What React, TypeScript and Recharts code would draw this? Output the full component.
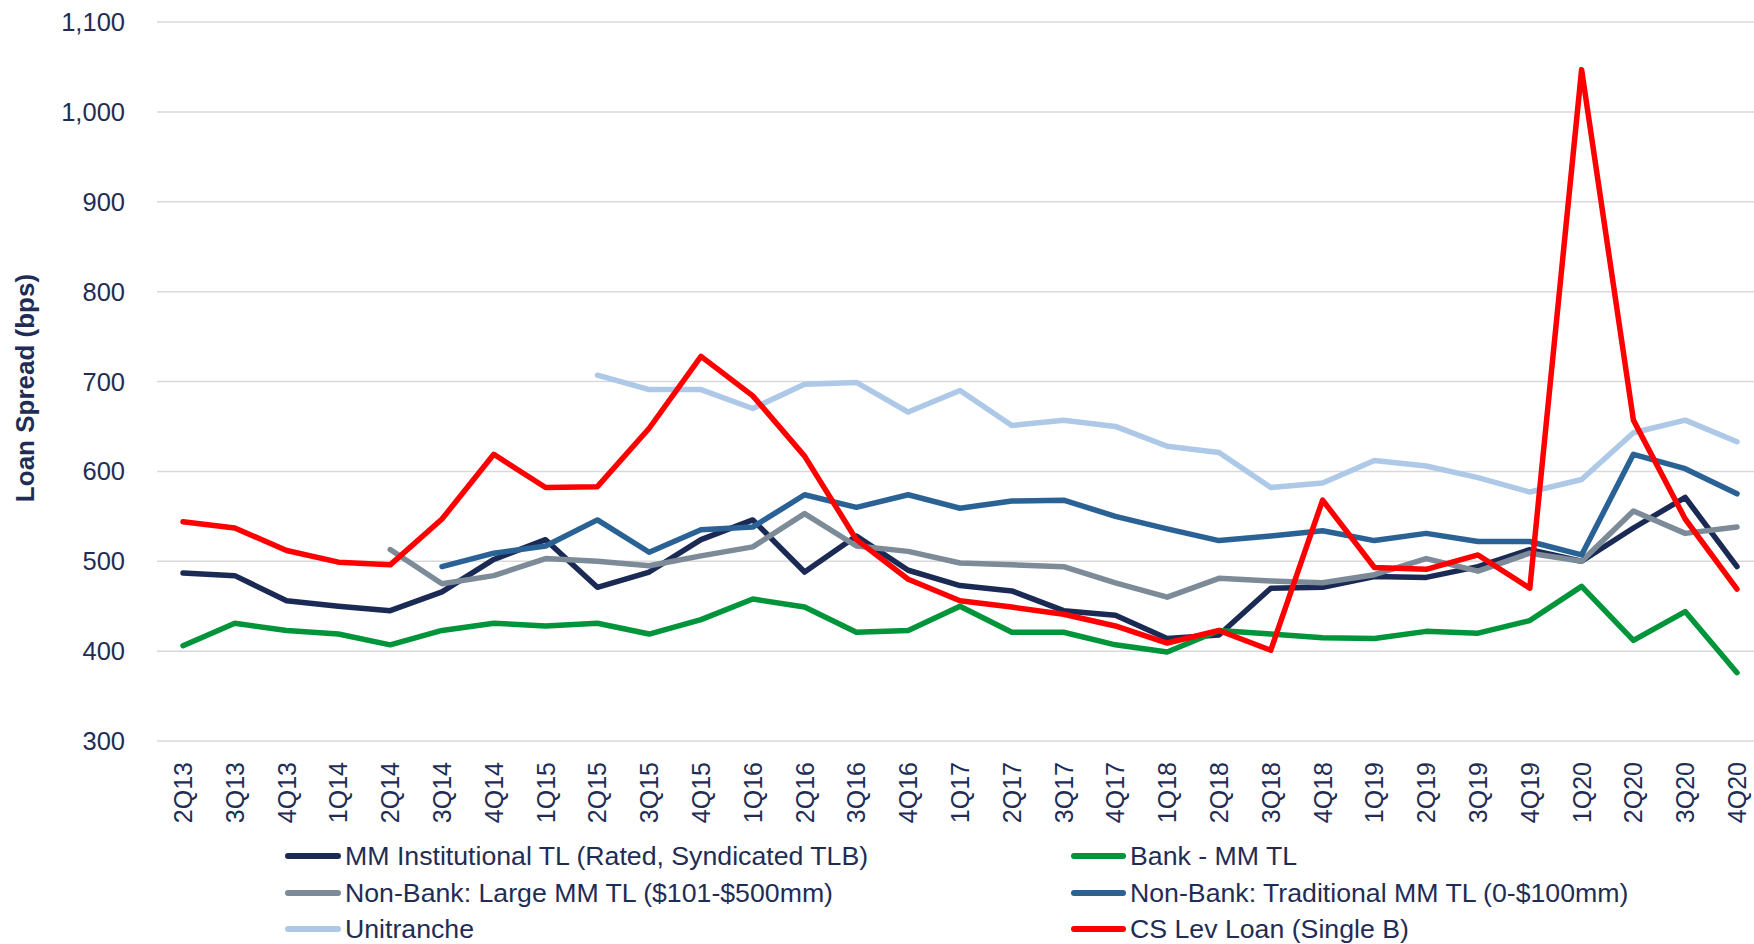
import React from 'react';
import { LineChart, Line, XAxis, YAxis, CartesianGrid } from 'recharts';

const quarters = [
  '2Q13', '3Q13', '4Q13', '1Q14', '2Q14', '3Q14', '4Q14', '1Q15', '2Q15', '3Q15', '4Q15',
  '1Q16', '2Q16', '3Q16', '4Q16', '1Q17', '2Q17', '3Q17', '4Q17', '1Q18', '2Q18', '3Q18',
  '4Q18', '1Q19', '2Q19', '3Q19', '4Q19', '1Q20', '2Q20', '3Q20', '4Q20',
];

const mmInstitutional = [
  487, 484, 456, 450, 445, 466, 502, 524, 471, 488, 524, 546, 488, 528, 490, 473,
  467, 445, 440, 414, 418, 470, 471, 483, 482, 494, 513, 500, 537, 571, 494,
];
const bankMm = [
  406, 431, 423, 419, 407, 423, 431, 428, 431, 419, 435, 458, 449, 421, 423, 450,
  421, 421, 407, 399, 423, 419, 415, 414, 422, 420, 434, 472, 412, 444, 376,
];
const nonBankLarge = [
  null, null, null, null, 513, 475, 484, 503, 500, 495, 506, 516, 553, 517, 511, 498,
  496, 494, 476, 460, 481, 478, 476, 485, 503, 489, 509, 500, 556, 531, 538,
];
const nonBankTraditional = [
  null, null, null, null, null, 494, 509, 517, 546, 510, 535, 538, 574, 560, 574, 559,
  567, 568, 550, 536, 523, 528, 534, 523, 531, 522, 522, 507, 619, 603, 575,
];
const unitranche = [
  null, null, null, null, null, null, null, null, 707, 691, 691, 670, 697, 699, 666, 690,
  651, 657, 650, 628, 621, 582, 587, 612, 606, 593, 577, 591, 643, 657, 633,
];
const csLevLoan = [
  544, 537, 512, 499, 496, 547, 619, 582, 583, 648, 728, 684, 617, 524, 480, 456,
  449, 441, 428, 409, 423, 401, 568, 493, 491, 507, 470, 1047, 657, 547, 469,
];

const yTicks = [300, 400, 500, 600, 700, 800, 900, 1000, 1100];

const series = [
  { key: 'mmInstitutional', name: 'MM Institutional TL (Rated, Syndicated TLB)', color: '#1B2A54', values: mmInstitutional },
  { key: 'bankMm', name: 'Bank - MM TL', color: '#00953A', values: bankMm },
  { key: 'nonBankLarge', name: 'Non-Bank: Large MM TL ($101-$500mm)', color: '#7C8B97', values: nonBankLarge },
  { key: 'nonBankTraditional', name: 'Non-Bank: Traditional MM TL (0-$100mm)', color: '#2A6296', values: nonBankTraditional },
  { key: 'unitranche', name: 'Unitranche', color: '#AEC9E8', values: unitranche },
  { key: 'csLevLoan', name: 'CS Lev Loan (Single B)', color: '#FF0000', values: csLevLoan },
];

const data = quarters.map((q, i) => {
  const row: Record<string, string | number | null> = { quarter: q };
  series.forEach((s) => {
    row[s.key] = s.values[i];
  });
  return row;
});

const FONT = '"Liberation Sans", Arial, sans-serif';
const TEXT = '#1F2D55';

function QuarterTick({ x, y, payload }: any) {
  const ty = y + 19;
  return (
    <text
      x={x}
      y={ty}
      transform={`rotate(-90, ${x}, ${ty})`}
      textAnchor="end"
      dy="0.36em"
      fill={TEXT}
      fontSize={25}
      fontFamily={FONT}
    >
      {payload.value}
    </text>
  );
}

const legendCols = [
  { iconLeft: 285, textLeft: 345 },
  { iconLeft: 1071, textLeft: 1130 },
];
const legendRows = [856, 893, 929];

export default function App() {
  return (
    <div
      style={{
        position: 'absolute',
        left: 0,
        top: 0,
        width: 1754,
        height: 944,
        overflow: 'hidden',
        background: '#fff',
        fontFamily: FONT,
      }}
    >
      <LineChart
        width={1770}
        height={944}
        data={data}
        margin={{ top: 22, right: 7, bottom: 0, left: 0 }}
      >
        <CartesianGrid vertical={false} stroke="#D9D9D9" strokeWidth={1.5} />
        <XAxis
          dataKey="quarter"
          scale="point"
          padding={{ left: 26, right: 26 }}
          height={203}
          axisLine={false}
          tickLine={false}
          tickSize={0}
          interval={0}
          tick={<QuarterTick />}
        />
        <YAxis
          domain={[300, 1100]}
          ticks={yTicks}
          width={157}
          axisLine={false}
          tickLine={false}
          tickSize={0}
          tickMargin={32}
          tickFormatter={(v: number) => v.toLocaleString('en-US')}
          tick={{ fill: TEXT, fontSize: 25.5, fontFamily: FONT }}
        />
        {series.map((s) => (
          <Line
            key={s.key}
            type="linear"
            dataKey={s.key}
            name={s.name}
            stroke={s.color}
            strokeWidth={5.5}
            strokeLinejoin="round"
            strokeLinecap="round"
            dot={false}
            activeDot={false}
            isAnimationActive={false}
          />
        ))}
      </LineChart>

      <div
        style={{
          position: 'absolute',
          left: 25,
          top: 388,
          transform: 'translate(-50%, -50%) rotate(-90deg)',
          whiteSpace: 'nowrap',
          fontWeight: 'bold',
          fontSize: 26,
          color: TEXT,
        }}
      >
        Loan Spread (bps)
      </div>

      {series.map((s, i) => {
        const col = legendCols[i % 2];
        const rowY = legendRows[Math.floor(i / 2)];
        return (
          <div key={s.key}>
            <div
              style={{
                position: 'absolute',
                left: col.iconLeft,
                top: rowY - 3,
                width: col.textLeft - col.iconLeft - 4,
                height: 6,
                borderRadius: 3,
                background: s.color,
              }}
            />
            <div
              style={{
                position: 'absolute',
                left: col.textLeft,
                top: rowY,
                transform: 'translateY(-50%)',
                whiteSpace: 'nowrap',
                fontSize: 26.7,
                color: TEXT,
                lineHeight: 1,
              }}
            >
              {s.name}
            </div>
          </div>
        );
      })}
    </div>
  );
}
